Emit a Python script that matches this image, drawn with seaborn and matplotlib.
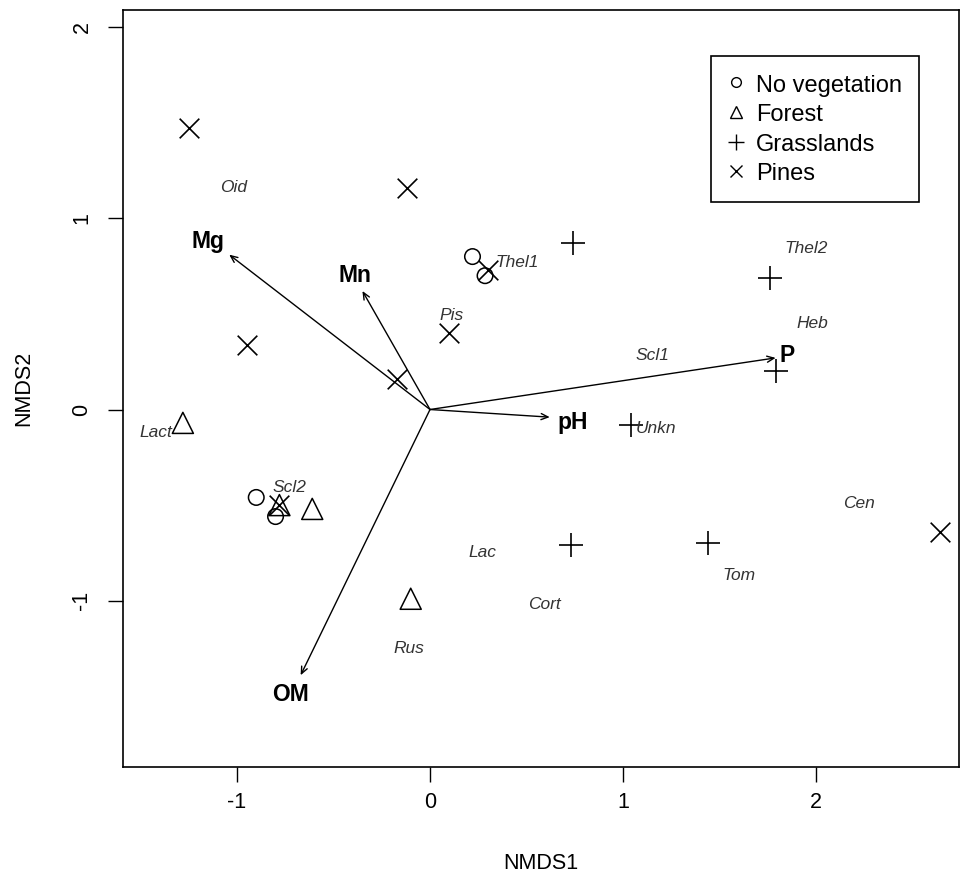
import matplotlib
matplotlib.use("Agg")
import matplotlib.pyplot as plt
from matplotlib.lines import Line2D
import seaborn as sns
import pandas as pd

# site scores (NMDS1, NMDS2) per vegetation type
noveg_x = [0.22, 0.285, -0.90, -0.80]
noveg_y = [0.80, 0.70, -0.46, -0.56]
forest_x = [-1.28, -0.78, -0.61, -0.10]
forest_y = [-0.07, -0.50, -0.52, -0.99]
grass_x = [0.74, 1.76, 1.79, 1.04, 0.73, 1.44]
grass_y = [0.87, 0.69, 0.20, -0.08, -0.71, -0.70]
pines_x = [-1.25, -0.12, -0.95, 0.10, -0.17, 0.30, -0.78, 2.64]
pines_y = [1.47, 1.16, 0.34, 0.40, 0.16, 0.73, -0.50, -0.64]

# species labels
species = ["Oid", "Thel1", "Pis", "Thel2", "Heb", "Scl1", "Unkn", "Lact",
           "Scl2", "Lac", "Cort", "Rus", "Tom", "Cen"]
species_x = [-1.02, 0.45, 0.11, 1.95, 1.98, 1.15, 1.17, -1.42,
             -0.73, 0.27, 0.59, -0.11, 1.60, 2.22]
species_y = [1.16, 0.77, 0.49, 0.84, 0.45, 0.28, -0.10, -0.12,
             -0.41, -0.75, -1.02, -1.25, -0.87, -0.49]

# environmental vectors
env = ["Mg", "Mn", "P", "pH", "OM"]
env_x = [-1.04, -0.35, 1.79, 0.62, -0.67]
env_y = [0.81, 0.62, 0.27, -0.04, -1.39]
env_lab_x = [-1.15, -0.39, 1.85, 0.74, -0.72]
env_lab_y = [0.88, 0.70, 0.28, -0.07, -1.49]

groups = ["No vegetation", "Forest", "Grasslands", "Pines"]

sns.set_style("white")
plt.rcParams["font.family"] = ["Liberation Sans", "DejaVu Sans"]
plt.rcParams["text.color"] = "black"
plt.rcParams["axes.labelcolor"] = "black"

fig = plt.figure(figsize=(9.61, 8.82), dpi=100)
ax = fig.add_axes([0.128, 0.1304, 0.870, 0.8583])

sites = pd.DataFrame({
    "NMDS1": noveg_x + forest_x + grass_x + pines_x,
    "NMDS2": noveg_y + forest_y + grass_y + pines_y,
    "veg": [groups[0]] * len(noveg_x) + [groups[1]] * len(forest_x)
           + [groups[2]] * len(grass_x) + [groups[3]] * len(pines_x),
})

# open markers need facecolor none, line markers need a colour
sns.scatterplot(data=sites[sites.veg == groups[0]], x="NMDS1", y="NMDS2",
                marker="o", s=125, facecolors="none", edgecolor="black",
                linewidth=1.1, ax=ax, legend=False)
sns.scatterplot(data=sites[sites.veg == groups[1]], x="NMDS1", y="NMDS2",
                marker="^", s=230, facecolors="none", edgecolor="black",
                linewidth=1.1, ax=ax, legend=False)
sns.scatterplot(data=sites[sites.veg == groups[2]], x="NMDS1", y="NMDS2",
                marker="+", s=320, color="black", linewidth=1.2,
                ax=ax, legend=False)
sns.scatterplot(data=sites[sites.veg == groups[3]], x="NMDS1", y="NMDS2",
                marker="x", s=200, color="black", linewidth=1.2,
                ax=ax, legend=False)

for name, x, y in zip(species, species_x, species_y):
    ax.text(x, y, name, ha="center", va="center", style="italic",
            fontsize=12.5, color="#333333")

for name, x, y, lx, ly in zip(env, env_x, env_y, env_lab_x, env_lab_y):
    ax.annotate("", xy=(x, y), xytext=(0, 0),
                arrowprops=dict(arrowstyle="->,head_length=0.5,head_width=0.22",
                                color="black", lw=1.0, shrinkA=0, shrinkB=0))
    ax.text(lx, ly, name, ha="center", va="center", fontweight="bold",
            fontsize=16.5, color="black")

ax.set_xlim(-1.59, 2.74)
ax.set_ylim(-1.87, 2.09)
ax.set_xticks([-1, 0, 1, 2])
ax.set_yticks([-1, 0, 1, 2])
ax.set_xticklabels(["-1", "0", "1", "2"])
ax.set_yticklabels(["-1", "0", "1", "2"], rotation=90, va="center")
ax.tick_params(axis="both", direction="out", length=11, width=1,
               labelsize=15.5, color="black", labelcolor="black",
               bottom=True, left=True)
ax.tick_params(axis="x", pad=7)
ax.tick_params(axis="y", pad=11)
for sp in ax.spines.values():
    sp.set_color("black")
    sp.set_linewidth(1.2)

ax.set_xlabel("NMDS1", fontsize=15.5, labelpad=29, color="black")
ax.set_ylabel("NMDS2", fontsize=15.5, labelpad=27, color="black")

handles = [
    Line2D([], [], linestyle="none", marker="o", markersize=7,
           markerfacecolor="none", markeredgecolor="black", markeredgewidth=1),
    Line2D([], [], linestyle="none", marker="^", markersize=9,
           markerfacecolor="none", markeredgecolor="black", markeredgewidth=1),
    Line2D([], [], linestyle="none", marker="+", markersize=12,
           color="black", markeredgewidth=1),
    Line2D([], [], linestyle="none", marker="x", markersize=8,
           color="black", markeredgewidth=1),
]
leg = ax.legend(handles, groups, loc="upper right", bbox_to_anchor=(0.952, 0.939),
                fontsize=17, frameon=True, fancybox=False, framealpha=1,
                edgecolor="black", handlelength=0.7, handleheight=1.0,
                handletextpad=0.5, labelspacing=0.25, borderpad=0.72,
                borderaxespad=0, labelcolor="black")
leg.get_frame().set_linewidth(1.2)

fig.savefig("out.png", dpi=100)
